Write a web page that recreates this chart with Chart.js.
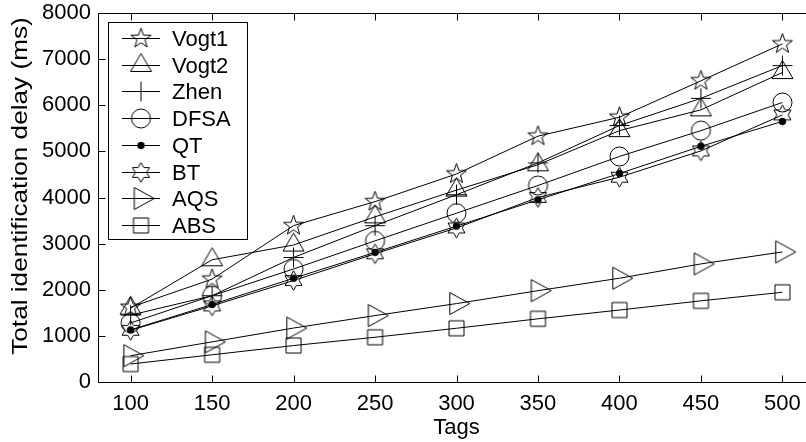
<!DOCTYPE html>
<html>
<head>
<meta charset="utf-8">
<script src="https://cdn.jsdelivr.net/npm/chart.js@4.4.1/dist/chart.umd.min.js"></script>
<style>
html,body{margin:0;padding:0;background:#fff;overflow:hidden;}
#wrap{width:826px;height:442px;position:relative;}
</style>
</head>
<body>
<div id="wrap"><canvas id="c" width="826" height="442"></canvas></div>
<script>
// ---- data ----
const tags = [100, 150, 200, 250, 300, 350, 400, 450, 500];
const seriesNames = ['Vogt1', 'Vogt2', 'Zhen', 'DFSA', 'QT', 'BT', 'AQS', 'ABS'];
const vogt1 = [1620, 2230, 3390, 3910, 4510, 5330, 5740, 6530, 7330];
const vogt2 = [1600, 2650, 2970, 3580, 4160, 4710, 5450, 5900, 6710];
const zhen  = [1450, 1870, 2700, 3390, 4060, 4750, 5560, 6150, 6860];
const dfsa  = [1280, 1870, 2450, 3060, 3660, 4260, 4890, 5450, 6060];
const qt    = [1130, 1680, 2250, 2810, 3380, 3950, 4520, 5110, 5650];
const bt    = [1120, 1650, 2200, 2780, 3340, 4000, 4440, 5010, 5790];
const aqs   = [570, 870, 1170, 1440, 1700, 1980, 2250, 2560, 2820];
const abs   = [390, 590, 790, 970, 1165, 1370, 1560, 1760, 1945];
const xTicks = [100, 150, 200, 250, 300, 350, 400, 450, 500];
const yTicks = [0, 1000, 2000, 3000, 4000, 5000, 6000, 7000, 8000];
const xTitle = 'Tags';
const yTitle = 'Total identification delay (ms)';

const FONT = '"Liberation Sans", Arial, Helvetica, sans-serif';

// ---- marker images ----
function mk(draw) {
  const S = 31, c = document.createElement('canvas');
  c.width = S; c.height = S;
  const g = c.getContext('2d');
  g.strokeStyle = '#000'; g.fillStyle = '#000'; g.lineWidth = 1;
  g.beginPath(); draw(g, S / 2); g.stroke();
  return c;
}
function starPoly(g, c, n, ro, ri) {
  for (let i = 0; i < 2 * n; i++) {
    const a = -Math.PI / 2 + i * Math.PI / n;
    const r = i % 2 === 0 ? ro : ri;
    const px = c + r * Math.cos(a), py = c + r * Math.sin(a);
    if (i === 0) g.moveTo(px, py); else g.lineTo(px, py);
  }
  g.closePath();
}
const markers = [
  mk((g, c) => starPoly(g, c, 5, 10.5, 4.2)),
  mk((g, c) => { g.moveTo(c, c - 12); g.lineTo(c + 10.5, c + 6); g.lineTo(c - 10.5, c + 6); g.closePath(); }),
  mk((g, c) => { g.moveTo(c - 10, c); g.lineTo(c + 10, c); g.moveTo(c, c - 10); g.lineTo(c, c + 10); }),
  mk((g, c) => { g.arc(c, c, 9.5, 0, Math.PI * 2); }),
  mk((g, c) => { g.arc(c, c, 3.3, 0, Math.PI * 2); g.fill(); }),
  mk((g, c) => starPoly(g, c, 6, 9.8, 5.66)),
  mk((g, c) => { g.moveTo(c - 6.7, c - 11); g.lineTo(c + 13.3, c); g.lineTo(c - 6.7, c + 11); g.closePath(); }),
  mk((g, c) => { g.rect(c - 7.5, c - 7.5, 15, 15); })
];
const allData = [vogt1, vogt2, zhen, dfsa, qt, bt, aqs, abs];

const datasets = seriesNames.map((name, i) => ({
  label: name,
  data: tags.map((t, j) => ({ x: t, y: allData[i][j] })),
  borderColor: '#000',
  borderWidth: 1,
  backgroundColor: 'rgba(0,0,0,0)',
  pointStyle: markers[i],
  pointRadius: 10,
  pointHoverRadius: 10,
  tension: 0,
  fill: false,
  clip: false
}));

// ---- frame, ticks, titles, legend ----
const decor = {
  id: 'decor',
  afterDatasetsDraw(chart) {
    const ctx = chart.ctx, ca = chart.chartArea;
    const xs = chart.scales.x, ys = chart.scales.y;
    ctx.save();
    ctx.strokeStyle = '#000'; ctx.lineWidth = 1;
    const L = Math.round(ca.left) + 0.5, R = Math.round(ca.right) + 0.5;
    const T = Math.round(ca.top) + 0.5, B = Math.round(ca.bottom) + 0.5;
    ctx.beginPath();
    ctx.moveTo(L, T); ctx.lineTo(R, T); ctx.lineTo(R, B); ctx.lineTo(L, B); ctx.closePath();
    const tl = 7;
    xTicks.forEach(v => {
      const p = Math.round(xs.getPixelForValue(v)) + 0.5;
      ctx.moveTo(p, B); ctx.lineTo(p, B - tl);
      ctx.moveTo(p, T); ctx.lineTo(p, T + tl);
    });
    yTicks.forEach(v => {
      const p = Math.round(ys.getPixelForValue(v)) + 0.5;
      ctx.moveTo(L, p); ctx.lineTo(L + tl, p);
      ctx.moveTo(R, p); ctx.lineTo(R - tl, p);
    });
    ctx.stroke();

    // titles
    ctx.fillStyle = '#000';
    ctx.font = '22px ' + FONT;
    ctx.textAlign = 'center'; ctx.textBaseline = 'alphabetic';
    ctx.fillText(xTitle, (ca.left + ca.right) / 2, 434);
    ctx.save();
    ctx.translate(26.5, 186);
    ctx.rotate(-Math.PI / 2);
    ctx.scale(1.19, 1);
    ctx.fillText(yTitle, 0, 0);
    ctx.restore();

    // legend
    const bx = 108.5, by = 22.5, bw = 139, bh = 217;
    ctx.fillStyle = '#fff';
    ctx.fillRect(bx, by, bw, bh);
    ctx.strokeRect(bx, by, bw, bh);
    ctx.fillStyle = '#000';
    ctx.textAlign = 'left'; ctx.textBaseline = 'middle';
    chart.data.datasets.forEach((ds, i) => {
      const yy = Math.round(38 + i * 26.7) + 0.5;
      ctx.beginPath();
      ctx.moveTo(122, yy); ctx.lineTo(160, yy); ctx.stroke();
      const m = ds.pointStyle;
      ctx.drawImage(m, 141 - m.width / 2, yy - m.height / 2);
      ctx.fillText(ds.label, 172, yy + 1);
    });
    ctx.restore();
  }
};

function noPad(s) { s.paddingLeft = 0; s.paddingRight = 0; s.paddingTop = 0; s.paddingBottom = 0; }

new Chart(document.getElementById('c'), {
  type: 'line',
  data: { datasets },
  plugins: [decor],
  options: {
    responsive: false,
    animation: false,
    events: [],
    layout: { padding: { top: 13, right: 5, left: 0, bottom: 0 } },
    plugins: { legend: { display: false }, tooltip: { enabled: false }, title: { display: false } },
    scales: {
      x: {
        type: 'linear', min: 80, max: 520,
        afterBuildTicks: s => { s.ticks = xTicks.map(v => ({ value: v })); },
        afterFit: s => { s.height = 60; noPad(s); },
        grid: { display: false, drawTicks: false },
        border: { display: false },
        ticks: { color: '#000', font: { family: FONT, size: 22 }, padding: 9, maxRotation: 0, autoSkip: false, callback: v => String(v) }
      },
      y: {
        type: 'linear', min: 0, max: 8000,
        afterBuildTicks: s => { s.ticks = yTicks.map(v => ({ value: v })); },
        afterFit: s => { s.width = 98; noPad(s); },
        grid: { display: false, drawTicks: false },
        border: { display: false },
        ticks: { color: '#000', font: { family: FONT, size: 22 }, padding: 7, callback: v => String(v) }
      }
    }
  }
});
</script>
</body>
</html>
